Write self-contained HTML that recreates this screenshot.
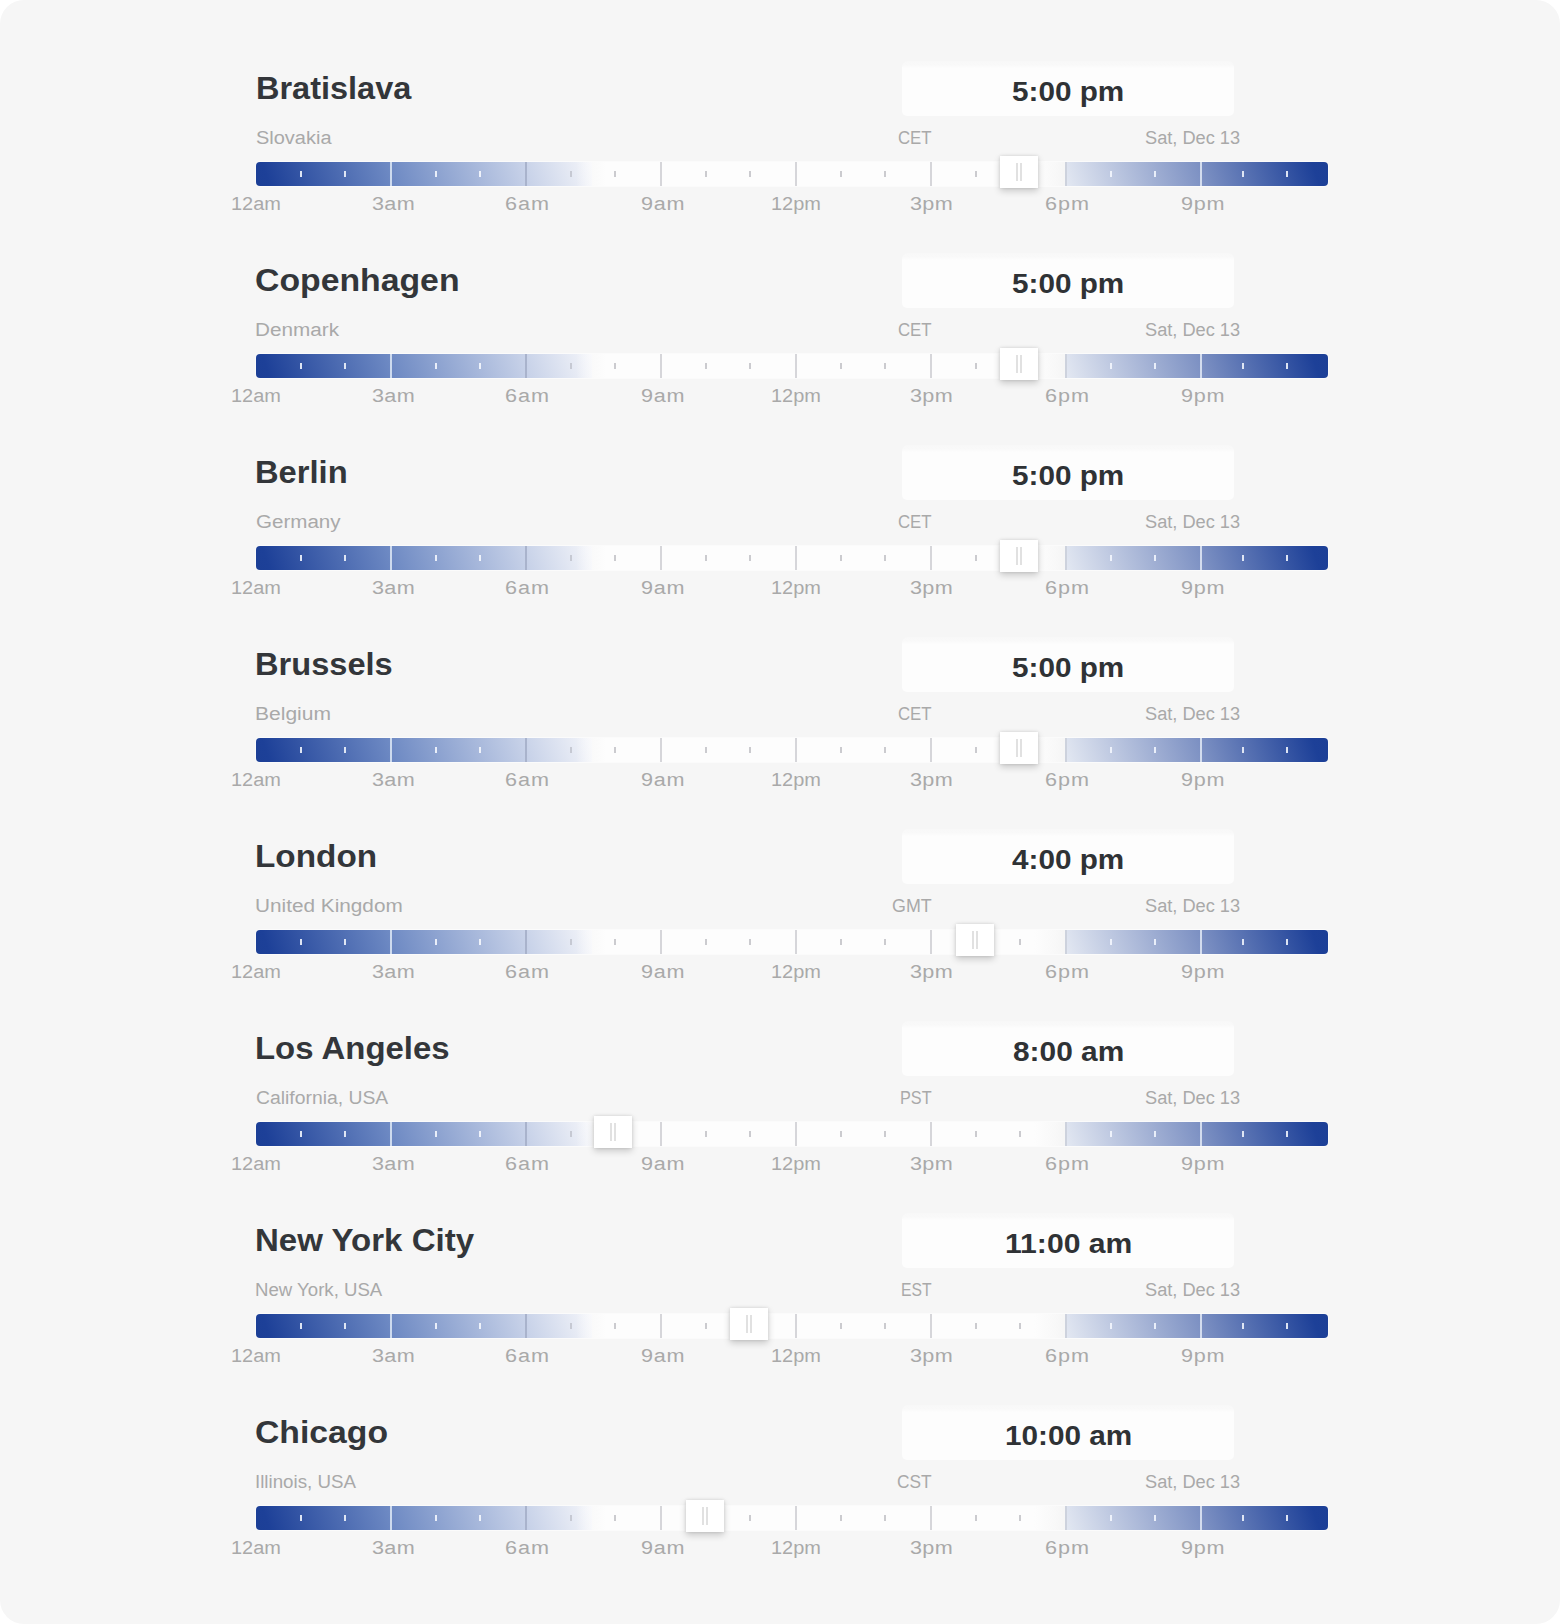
<!DOCTYPE html>
<html lang="en">
<head>
<meta charset="utf-8">
<title>World clock</title>
<style>
html,body{margin:0;padding:0;background:#fff;}
body{width:1560px;height:1624px;overflow:hidden;font-family:"Liberation Sans",sans-serif;}
.page{position:absolute;left:0;top:0;width:1560px;height:1624px;background:#f6f6f6;border-radius:24px;overflow:hidden;}
.row{position:absolute;left:0;width:1560px;height:192px;}
.t{position:absolute;margin:0;white-space:nowrap;transform-origin:0 50%;}
.city{top:69px;font-size:31px;line-height:40px;font-weight:700;color:#33363a;}
.timebox{position:absolute;left:902px;top:61px;width:332px;height:55px;border-radius:6px 6px 5px 5px;background:linear-gradient(to bottom,#f8f8f8 0,#f9f9f9 4px,#fdfdfd 7px);}
.time{top:66.1px;font-size:28.5px;line-height:50px;font-weight:700;color:#2f3235;}
.sub{top:126px;font-size:18px;line-height:24px;color:#a9a9a9;}
.lab{top:192px;font-size:18px;line-height:24px;color:#a9a9a9;}
.track{position:absolute;left:256px;top:162px;width:1072px;height:24px;}
.track{overflow:hidden;border-radius:4px;box-shadow:0 0 0 1px rgba(255,255,255,.5);}
.gl{position:absolute;left:0;top:0;width:336px;height:24px;background:linear-gradient(72deg,#1c3f96 0%,#1d4098 4%,#6d89c3 40.2%,#c9d3e9 80.4%,#f5f6fa 100%);}
.gd{position:absolute;left:320px;top:0;width:490px;height:24px;background:linear-gradient(90deg,rgba(253,253,253,0) 0,rgba(253,253,253,.5) 14px,#fdfdfd 30px,#fdfdfd 458px,rgba(253,253,253,.5) 474px,rgba(253,253,253,0) 488px);}
.gr{position:absolute;left:810px;top:0;width:262px;height:24px;background:linear-gradient(72deg,#e3e8f2 0%,#7d91c3 51.5%,#1d4098 94%,#1c3f96 100%);}
.tk{position:absolute;top:8.8px;width:2px;height:6.2px;}
.tk.big{top:0;height:24px;}
.knob{position:absolute;top:156px;width:38px;height:32px;background:#fff;box-shadow:0 3px 7px rgba(0,0,0,.19),0 0 3px rgba(0,0,0,.12);}
.knob b{position:absolute;top:7px;width:2px;height:18px;background:#e1e1e1;}
.knob b:first-child{left:16px;}
.knob b:last-child{left:20px;}
</style>
</head>
<body>
<div class="page">
<section class="row" style="top:0px">
  <h2 class="t city" id="c0" style="left:256.00px;transform:scaleX(1.0480)">Bratislava</h2>
  <div class="timebox"></div>
  <div class="t time" id="m0" style="left:1012.00px;transform:scaleX(1.0420)">5:00 pm</div>
  <div class="t sub" id="s0" style="left:256.00px;transform:scaleX(1.1096)">Slovakia</div>
  <div class="t sub" id="z0" style="left:898.00px;transform:scaleX(0.9326)">CET</div>
  <div class="t sub" id="d0" style="left:1145.00px;transform:scaleX(1.0113)">Sat, Dec 13</div>
  <div class="track"><div class="gl"></div><div class="gd"></div><div class="gr"></div><i class="tk" style="left:44px;background:#dde4f3"></i><i class="tk" style="left:88px;background:#dfe6f4"></i><i class="tk big" style="left:134px;background:#cddaee"></i><i class="tk" style="left:179px;background:#e9eef9"></i><i class="tk" style="left:223px;background:#eef2fa"></i><i class="tk big" style="left:269px;background:#a9b3cc"></i><i class="tk" style="left:314px;background:#c6c9d3"></i><i class="tk" style="left:358px;background:#cbcbcf"></i><i class="tk big" style="left:404px;background:#d6d6da"></i><i class="tk" style="left:449px;background:#cbcbcf"></i><i class="tk" style="left:493px;background:#cbcbcf"></i><i class="tk big" style="left:539px;background:#d6d6da"></i><i class="tk" style="left:584px;background:#cbcbcf"></i><i class="tk" style="left:628px;background:#cbcbcf"></i><i class="tk big" style="left:674px;background:#d6d6da"></i><i class="tk" style="left:719px;background:#cbcbcf"></i><i class="tk" style="left:763px;background:#cbcbcf"></i><i class="tk big" style="left:809px;background:#cdd2dd"></i><i class="tk" style="left:854px;background:#eef2fb"></i><i class="tk" style="left:898px;background:#e9eef9"></i><i class="tk big" style="left:944px;background:#d3dcee"></i><i class="tk" style="left:986px;background:#dfe6f4"></i><i class="tk" style="left:1030px;background:#dde4f3"></i></div>
  <div class="knob" style="left:1000px"><b></b><b></b></div>
  <span class="t lab" id="l0_0" style="left:231.00px;transform:scaleX(1.1085)">12am</span><span class="t lab" id="l0_1" style="left:372.00px;letter-spacing:0.26px;transform:scaleX(1.2000)">3am</span><span class="t lab" id="l0_2" style="left:505.00px;letter-spacing:0.79px;transform:scaleX(1.2000)">6am</span><span class="t lab" id="l0_3" style="left:641.00px;letter-spacing:0.61px;transform:scaleX(1.2000)">9am</span><span class="t lab" id="l0_4" style="left:771.00px;transform:scaleX(1.1085)">12pm</span><span class="t lab" id="l0_5" style="left:910.00px;letter-spacing:0.28px;transform:scaleX(1.2000)">3pm</span><span class="t lab" id="l0_6" style="left:1045.00px;letter-spacing:0.79px;transform:scaleX(1.2000)">6pm</span><span class="t lab" id="l0_7" style="left:1181.00px;letter-spacing:0.61px;transform:scaleX(1.2000)">9pm</span>
</section>
<section class="row" style="top:192px">
  <h2 class="t city" id="c1" style="left:255.00px;transform:scaleX(1.0894)">Copenhagen</h2>
  <div class="timebox"></div>
  <div class="t time" id="m1" style="left:1012.00px;transform:scaleX(1.0420)">5:00 pm</div>
  <div class="t sub" id="s1" style="left:255.00px;transform:scaleX(1.1501)">Denmark</div>
  <div class="t sub" id="z1" style="left:898.00px;transform:scaleX(0.9326)">CET</div>
  <div class="t sub" id="d1" style="left:1145.00px;transform:scaleX(1.0113)">Sat, Dec 13</div>
  <div class="track"><div class="gl"></div><div class="gd"></div><div class="gr"></div><i class="tk" style="left:44px;background:#dde4f3"></i><i class="tk" style="left:88px;background:#dfe6f4"></i><i class="tk big" style="left:134px;background:#cddaee"></i><i class="tk" style="left:179px;background:#e9eef9"></i><i class="tk" style="left:223px;background:#eef2fa"></i><i class="tk big" style="left:269px;background:#a9b3cc"></i><i class="tk" style="left:314px;background:#c6c9d3"></i><i class="tk" style="left:358px;background:#cbcbcf"></i><i class="tk big" style="left:404px;background:#d6d6da"></i><i class="tk" style="left:449px;background:#cbcbcf"></i><i class="tk" style="left:493px;background:#cbcbcf"></i><i class="tk big" style="left:539px;background:#d6d6da"></i><i class="tk" style="left:584px;background:#cbcbcf"></i><i class="tk" style="left:628px;background:#cbcbcf"></i><i class="tk big" style="left:674px;background:#d6d6da"></i><i class="tk" style="left:719px;background:#cbcbcf"></i><i class="tk" style="left:763px;background:#cbcbcf"></i><i class="tk big" style="left:809px;background:#cdd2dd"></i><i class="tk" style="left:854px;background:#eef2fb"></i><i class="tk" style="left:898px;background:#e9eef9"></i><i class="tk big" style="left:944px;background:#d3dcee"></i><i class="tk" style="left:986px;background:#dfe6f4"></i><i class="tk" style="left:1030px;background:#dde4f3"></i></div>
  <div class="knob" style="left:1000px"><b></b><b></b></div>
  <span class="t lab" id="l1_0" style="left:231.00px;transform:scaleX(1.1085)">12am</span><span class="t lab" id="l1_1" style="left:372.00px;letter-spacing:0.26px;transform:scaleX(1.2000)">3am</span><span class="t lab" id="l1_2" style="left:505.00px;letter-spacing:0.79px;transform:scaleX(1.2000)">6am</span><span class="t lab" id="l1_3" style="left:641.00px;letter-spacing:0.61px;transform:scaleX(1.2000)">9am</span><span class="t lab" id="l1_4" style="left:771.00px;transform:scaleX(1.1085)">12pm</span><span class="t lab" id="l1_5" style="left:910.00px;letter-spacing:0.28px;transform:scaleX(1.2000)">3pm</span><span class="t lab" id="l1_6" style="left:1045.00px;letter-spacing:0.79px;transform:scaleX(1.2000)">6pm</span><span class="t lab" id="l1_7" style="left:1181.00px;letter-spacing:0.61px;transform:scaleX(1.2000)">9pm</span>
</section>
<section class="row" style="top:384px">
  <h2 class="t city" id="c2" style="left:255.00px;transform:scaleX(1.0542)">Berlin</h2>
  <div class="timebox"></div>
  <div class="t time" id="m2" style="left:1012.00px;transform:scaleX(1.0420)">5:00 pm</div>
  <div class="t sub" id="s2" style="left:256.00px;transform:scaleX(1.1427)">Germany</div>
  <div class="t sub" id="z2" style="left:898.00px;transform:scaleX(0.9326)">CET</div>
  <div class="t sub" id="d2" style="left:1145.00px;transform:scaleX(1.0113)">Sat, Dec 13</div>
  <div class="track"><div class="gl"></div><div class="gd"></div><div class="gr"></div><i class="tk" style="left:44px;background:#dde4f3"></i><i class="tk" style="left:88px;background:#dfe6f4"></i><i class="tk big" style="left:134px;background:#cddaee"></i><i class="tk" style="left:179px;background:#e9eef9"></i><i class="tk" style="left:223px;background:#eef2fa"></i><i class="tk big" style="left:269px;background:#a9b3cc"></i><i class="tk" style="left:314px;background:#c6c9d3"></i><i class="tk" style="left:358px;background:#cbcbcf"></i><i class="tk big" style="left:404px;background:#d6d6da"></i><i class="tk" style="left:449px;background:#cbcbcf"></i><i class="tk" style="left:493px;background:#cbcbcf"></i><i class="tk big" style="left:539px;background:#d6d6da"></i><i class="tk" style="left:584px;background:#cbcbcf"></i><i class="tk" style="left:628px;background:#cbcbcf"></i><i class="tk big" style="left:674px;background:#d6d6da"></i><i class="tk" style="left:719px;background:#cbcbcf"></i><i class="tk" style="left:763px;background:#cbcbcf"></i><i class="tk big" style="left:809px;background:#cdd2dd"></i><i class="tk" style="left:854px;background:#eef2fb"></i><i class="tk" style="left:898px;background:#e9eef9"></i><i class="tk big" style="left:944px;background:#d3dcee"></i><i class="tk" style="left:986px;background:#dfe6f4"></i><i class="tk" style="left:1030px;background:#dde4f3"></i></div>
  <div class="knob" style="left:1000px"><b></b><b></b></div>
  <span class="t lab" id="l2_0" style="left:231.00px;transform:scaleX(1.1085)">12am</span><span class="t lab" id="l2_1" style="left:372.00px;letter-spacing:0.26px;transform:scaleX(1.2000)">3am</span><span class="t lab" id="l2_2" style="left:505.00px;letter-spacing:0.79px;transform:scaleX(1.2000)">6am</span><span class="t lab" id="l2_3" style="left:641.00px;letter-spacing:0.61px;transform:scaleX(1.2000)">9am</span><span class="t lab" id="l2_4" style="left:771.00px;transform:scaleX(1.1085)">12pm</span><span class="t lab" id="l2_5" style="left:910.00px;letter-spacing:0.28px;transform:scaleX(1.2000)">3pm</span><span class="t lab" id="l2_6" style="left:1045.00px;letter-spacing:0.79px;transform:scaleX(1.2000)">6pm</span><span class="t lab" id="l2_7" style="left:1181.00px;letter-spacing:0.61px;transform:scaleX(1.2000)">9pm</span>
</section>
<section class="row" style="top:576px">
  <h2 class="t city" id="c3" style="left:255.00px;transform:scaleX(1.0517)">Brussels</h2>
  <div class="timebox"></div>
  <div class="t time" id="m3" style="left:1012.00px;transform:scaleX(1.0420)">5:00 pm</div>
  <div class="t sub" id="s3" style="left:255.00px;transform:scaleX(1.1685)">Belgium</div>
  <div class="t sub" id="z3" style="left:898.00px;transform:scaleX(0.9326)">CET</div>
  <div class="t sub" id="d3" style="left:1145.00px;transform:scaleX(1.0113)">Sat, Dec 13</div>
  <div class="track"><div class="gl"></div><div class="gd"></div><div class="gr"></div><i class="tk" style="left:44px;background:#dde4f3"></i><i class="tk" style="left:88px;background:#dfe6f4"></i><i class="tk big" style="left:134px;background:#cddaee"></i><i class="tk" style="left:179px;background:#e9eef9"></i><i class="tk" style="left:223px;background:#eef2fa"></i><i class="tk big" style="left:269px;background:#a9b3cc"></i><i class="tk" style="left:314px;background:#c6c9d3"></i><i class="tk" style="left:358px;background:#cbcbcf"></i><i class="tk big" style="left:404px;background:#d6d6da"></i><i class="tk" style="left:449px;background:#cbcbcf"></i><i class="tk" style="left:493px;background:#cbcbcf"></i><i class="tk big" style="left:539px;background:#d6d6da"></i><i class="tk" style="left:584px;background:#cbcbcf"></i><i class="tk" style="left:628px;background:#cbcbcf"></i><i class="tk big" style="left:674px;background:#d6d6da"></i><i class="tk" style="left:719px;background:#cbcbcf"></i><i class="tk" style="left:763px;background:#cbcbcf"></i><i class="tk big" style="left:809px;background:#cdd2dd"></i><i class="tk" style="left:854px;background:#eef2fb"></i><i class="tk" style="left:898px;background:#e9eef9"></i><i class="tk big" style="left:944px;background:#d3dcee"></i><i class="tk" style="left:986px;background:#dfe6f4"></i><i class="tk" style="left:1030px;background:#dde4f3"></i></div>
  <div class="knob" style="left:1000px"><b></b><b></b></div>
  <span class="t lab" id="l3_0" style="left:231.00px;transform:scaleX(1.1085)">12am</span><span class="t lab" id="l3_1" style="left:372.00px;letter-spacing:0.26px;transform:scaleX(1.2000)">3am</span><span class="t lab" id="l3_2" style="left:505.00px;letter-spacing:0.79px;transform:scaleX(1.2000)">6am</span><span class="t lab" id="l3_3" style="left:641.00px;letter-spacing:0.61px;transform:scaleX(1.2000)">9am</span><span class="t lab" id="l3_4" style="left:771.00px;transform:scaleX(1.1085)">12pm</span><span class="t lab" id="l3_5" style="left:910.00px;letter-spacing:0.28px;transform:scaleX(1.2000)">3pm</span><span class="t lab" id="l3_6" style="left:1045.00px;letter-spacing:0.79px;transform:scaleX(1.2000)">6pm</span><span class="t lab" id="l3_7" style="left:1181.00px;letter-spacing:0.61px;transform:scaleX(1.2000)">9pm</span>
</section>
<section class="row" style="top:768px">
  <h2 class="t city" id="c4" style="left:255.00px;transform:scaleX(1.0744)">London</h2>
  <div class="timebox"></div>
  <div class="t time" id="m4" style="left:1012.00px;transform:scaleX(1.0420)">4:00 pm</div>
  <div class="t sub" id="s4" style="left:255.00px;transform:scaleX(1.1535)">United Kingdom</div>
  <div class="t sub" id="z4" style="left:892.00px;transform:scaleX(0.9912)">GMT</div>
  <div class="t sub" id="d4" style="left:1145.00px;transform:scaleX(1.0113)">Sat, Dec 13</div>
  <div class="track"><div class="gl"></div><div class="gd"></div><div class="gr"></div><i class="tk" style="left:44px;background:#dde4f3"></i><i class="tk" style="left:88px;background:#dfe6f4"></i><i class="tk big" style="left:134px;background:#cddaee"></i><i class="tk" style="left:179px;background:#e9eef9"></i><i class="tk" style="left:223px;background:#eef2fa"></i><i class="tk big" style="left:269px;background:#a9b3cc"></i><i class="tk" style="left:314px;background:#c6c9d3"></i><i class="tk" style="left:358px;background:#cbcbcf"></i><i class="tk big" style="left:404px;background:#d6d6da"></i><i class="tk" style="left:449px;background:#cbcbcf"></i><i class="tk" style="left:493px;background:#cbcbcf"></i><i class="tk big" style="left:539px;background:#d6d6da"></i><i class="tk" style="left:584px;background:#cbcbcf"></i><i class="tk" style="left:628px;background:#cbcbcf"></i><i class="tk big" style="left:674px;background:#d6d6da"></i><i class="tk" style="left:719px;background:#cbcbcf"></i><i class="tk" style="left:763px;background:#cbcbcf"></i><i class="tk big" style="left:809px;background:#cdd2dd"></i><i class="tk" style="left:854px;background:#eef2fb"></i><i class="tk" style="left:898px;background:#e9eef9"></i><i class="tk big" style="left:944px;background:#d3dcee"></i><i class="tk" style="left:986px;background:#dfe6f4"></i><i class="tk" style="left:1030px;background:#dde4f3"></i></div>
  <div class="knob" style="left:956px"><b></b><b></b></div>
  <span class="t lab" id="l4_0" style="left:231.00px;transform:scaleX(1.1085)">12am</span><span class="t lab" id="l4_1" style="left:372.00px;letter-spacing:0.26px;transform:scaleX(1.2000)">3am</span><span class="t lab" id="l4_2" style="left:505.00px;letter-spacing:0.79px;transform:scaleX(1.2000)">6am</span><span class="t lab" id="l4_3" style="left:641.00px;letter-spacing:0.61px;transform:scaleX(1.2000)">9am</span><span class="t lab" id="l4_4" style="left:771.00px;transform:scaleX(1.1085)">12pm</span><span class="t lab" id="l4_5" style="left:910.00px;letter-spacing:0.28px;transform:scaleX(1.2000)">3pm</span><span class="t lab" id="l4_6" style="left:1045.00px;letter-spacing:0.79px;transform:scaleX(1.2000)">6pm</span><span class="t lab" id="l4_7" style="left:1181.00px;letter-spacing:0.61px;transform:scaleX(1.2000)">9pm</span>
</section>
<section class="row" style="top:960px">
  <h2 class="t city" id="c5" style="left:255.00px;transform:scaleX(1.0624)">Los Angeles</h2>
  <div class="timebox"></div>
  <div class="t time" id="m5" style="left:1013.00px;transform:scaleX(1.0479)">8:00 am</div>
  <div class="t sub" id="s5" style="left:256.00px;transform:scaleX(1.0744)">California, USA</div>
  <div class="t sub" id="z5" style="left:900.00px;transform:scaleX(0.9021)">PST</div>
  <div class="t sub" id="d5" style="left:1145.00px;transform:scaleX(1.0113)">Sat, Dec 13</div>
  <div class="track"><div class="gl"></div><div class="gd"></div><div class="gr"></div><i class="tk" style="left:44px;background:#dde4f3"></i><i class="tk" style="left:88px;background:#dfe6f4"></i><i class="tk big" style="left:134px;background:#cddaee"></i><i class="tk" style="left:179px;background:#e9eef9"></i><i class="tk" style="left:223px;background:#eef2fa"></i><i class="tk big" style="left:269px;background:#a9b3cc"></i><i class="tk" style="left:314px;background:#c6c9d3"></i><i class="tk" style="left:358px;background:#cbcbcf"></i><i class="tk big" style="left:404px;background:#d6d6da"></i><i class="tk" style="left:449px;background:#cbcbcf"></i><i class="tk" style="left:493px;background:#cbcbcf"></i><i class="tk big" style="left:539px;background:#d6d6da"></i><i class="tk" style="left:584px;background:#cbcbcf"></i><i class="tk" style="left:628px;background:#cbcbcf"></i><i class="tk big" style="left:674px;background:#d6d6da"></i><i class="tk" style="left:719px;background:#cbcbcf"></i><i class="tk" style="left:763px;background:#cbcbcf"></i><i class="tk big" style="left:809px;background:#cdd2dd"></i><i class="tk" style="left:854px;background:#eef2fb"></i><i class="tk" style="left:898px;background:#e9eef9"></i><i class="tk big" style="left:944px;background:#d3dcee"></i><i class="tk" style="left:986px;background:#dfe6f4"></i><i class="tk" style="left:1030px;background:#dde4f3"></i></div>
  <div class="knob" style="left:594px"><b></b><b></b></div>
  <span class="t lab" id="l5_0" style="left:231.00px;transform:scaleX(1.1085)">12am</span><span class="t lab" id="l5_1" style="left:372.00px;letter-spacing:0.26px;transform:scaleX(1.2000)">3am</span><span class="t lab" id="l5_2" style="left:505.00px;letter-spacing:0.79px;transform:scaleX(1.2000)">6am</span><span class="t lab" id="l5_3" style="left:641.00px;letter-spacing:0.61px;transform:scaleX(1.2000)">9am</span><span class="t lab" id="l5_4" style="left:771.00px;transform:scaleX(1.1085)">12pm</span><span class="t lab" id="l5_5" style="left:910.00px;letter-spacing:0.28px;transform:scaleX(1.2000)">3pm</span><span class="t lab" id="l5_6" style="left:1045.00px;letter-spacing:0.79px;transform:scaleX(1.2000)">6pm</span><span class="t lab" id="l5_7" style="left:1181.00px;letter-spacing:0.61px;transform:scaleX(1.2000)">9pm</span>
</section>
<section class="row" style="top:1152px">
  <h2 class="t city" id="c6" style="left:255.00px;transform:scaleX(1.0655)">New York City</h2>
  <div class="timebox"></div>
  <div class="t time" id="m6" style="left:1005.00px;transform:scaleX(1.0570)">11:00 am</div>
  <div class="t sub" id="s6" style="left:255.00px;transform:scaleX(1.0341)">New York, USA</div>
  <div class="t sub" id="z6" style="left:901.00px;transform:scaleX(0.8732)">EST</div>
  <div class="t sub" id="d6" style="left:1145.00px;transform:scaleX(1.0113)">Sat, Dec 13</div>
  <div class="track"><div class="gl"></div><div class="gd"></div><div class="gr"></div><i class="tk" style="left:44px;background:#dde4f3"></i><i class="tk" style="left:88px;background:#dfe6f4"></i><i class="tk big" style="left:134px;background:#cddaee"></i><i class="tk" style="left:179px;background:#e9eef9"></i><i class="tk" style="left:223px;background:#eef2fa"></i><i class="tk big" style="left:269px;background:#a9b3cc"></i><i class="tk" style="left:314px;background:#c6c9d3"></i><i class="tk" style="left:358px;background:#cbcbcf"></i><i class="tk big" style="left:404px;background:#d6d6da"></i><i class="tk" style="left:449px;background:#cbcbcf"></i><i class="tk" style="left:493px;background:#cbcbcf"></i><i class="tk big" style="left:539px;background:#d6d6da"></i><i class="tk" style="left:584px;background:#cbcbcf"></i><i class="tk" style="left:628px;background:#cbcbcf"></i><i class="tk big" style="left:674px;background:#d6d6da"></i><i class="tk" style="left:719px;background:#cbcbcf"></i><i class="tk" style="left:763px;background:#cbcbcf"></i><i class="tk big" style="left:809px;background:#cdd2dd"></i><i class="tk" style="left:854px;background:#eef2fb"></i><i class="tk" style="left:898px;background:#e9eef9"></i><i class="tk big" style="left:944px;background:#d3dcee"></i><i class="tk" style="left:986px;background:#dfe6f4"></i><i class="tk" style="left:1030px;background:#dde4f3"></i></div>
  <div class="knob" style="left:730px"><b></b><b></b></div>
  <span class="t lab" id="l6_0" style="left:231.00px;transform:scaleX(1.1085)">12am</span><span class="t lab" id="l6_1" style="left:372.00px;letter-spacing:0.26px;transform:scaleX(1.2000)">3am</span><span class="t lab" id="l6_2" style="left:505.00px;letter-spacing:0.79px;transform:scaleX(1.2000)">6am</span><span class="t lab" id="l6_3" style="left:641.00px;letter-spacing:0.61px;transform:scaleX(1.2000)">9am</span><span class="t lab" id="l6_4" style="left:771.00px;transform:scaleX(1.1085)">12pm</span><span class="t lab" id="l6_5" style="left:910.00px;letter-spacing:0.28px;transform:scaleX(1.2000)">3pm</span><span class="t lab" id="l6_6" style="left:1045.00px;letter-spacing:0.79px;transform:scaleX(1.2000)">6pm</span><span class="t lab" id="l6_7" style="left:1181.00px;letter-spacing:0.61px;transform:scaleX(1.2000)">9pm</span>
</section>
<section class="row" style="top:1344px">
  <h2 class="t city" id="c7" style="left:255.00px;transform:scaleX(1.0879)">Chicago</h2>
  <div class="timebox"></div>
  <div class="t time" id="m7" style="left:1005.00px;transform:scaleX(1.0426)">10:00 am</div>
  <div class="t sub" id="s7" style="left:255.00px;transform:scaleX(1.0407)">Illinois, USA</div>
  <div class="t sub" id="z7" style="left:897.00px;transform:scaleX(0.9606)">CST</div>
  <div class="t sub" id="d7" style="left:1145.00px;transform:scaleX(1.0113)">Sat, Dec 13</div>
  <div class="track"><div class="gl"></div><div class="gd"></div><div class="gr"></div><i class="tk" style="left:44px;background:#dde4f3"></i><i class="tk" style="left:88px;background:#dfe6f4"></i><i class="tk big" style="left:134px;background:#cddaee"></i><i class="tk" style="left:179px;background:#e9eef9"></i><i class="tk" style="left:223px;background:#eef2fa"></i><i class="tk big" style="left:269px;background:#a9b3cc"></i><i class="tk" style="left:314px;background:#c6c9d3"></i><i class="tk" style="left:358px;background:#cbcbcf"></i><i class="tk big" style="left:404px;background:#d6d6da"></i><i class="tk" style="left:449px;background:#cbcbcf"></i><i class="tk" style="left:493px;background:#cbcbcf"></i><i class="tk big" style="left:539px;background:#d6d6da"></i><i class="tk" style="left:584px;background:#cbcbcf"></i><i class="tk" style="left:628px;background:#cbcbcf"></i><i class="tk big" style="left:674px;background:#d6d6da"></i><i class="tk" style="left:719px;background:#cbcbcf"></i><i class="tk" style="left:763px;background:#cbcbcf"></i><i class="tk big" style="left:809px;background:#cdd2dd"></i><i class="tk" style="left:854px;background:#eef2fb"></i><i class="tk" style="left:898px;background:#e9eef9"></i><i class="tk big" style="left:944px;background:#d3dcee"></i><i class="tk" style="left:986px;background:#dfe6f4"></i><i class="tk" style="left:1030px;background:#dde4f3"></i></div>
  <div class="knob" style="left:686px"><b></b><b></b></div>
  <span class="t lab" id="l7_0" style="left:231.00px;transform:scaleX(1.1085)">12am</span><span class="t lab" id="l7_1" style="left:372.00px;letter-spacing:0.26px;transform:scaleX(1.2000)">3am</span><span class="t lab" id="l7_2" style="left:505.00px;letter-spacing:0.79px;transform:scaleX(1.2000)">6am</span><span class="t lab" id="l7_3" style="left:641.00px;letter-spacing:0.61px;transform:scaleX(1.2000)">9am</span><span class="t lab" id="l7_4" style="left:771.00px;transform:scaleX(1.1085)">12pm</span><span class="t lab" id="l7_5" style="left:910.00px;letter-spacing:0.28px;transform:scaleX(1.2000)">3pm</span><span class="t lab" id="l7_6" style="left:1045.00px;letter-spacing:0.79px;transform:scaleX(1.2000)">6pm</span><span class="t lab" id="l7_7" style="left:1181.00px;letter-spacing:0.61px;transform:scaleX(1.2000)">9pm</span>
</section>
</div>
</body>
</html>
